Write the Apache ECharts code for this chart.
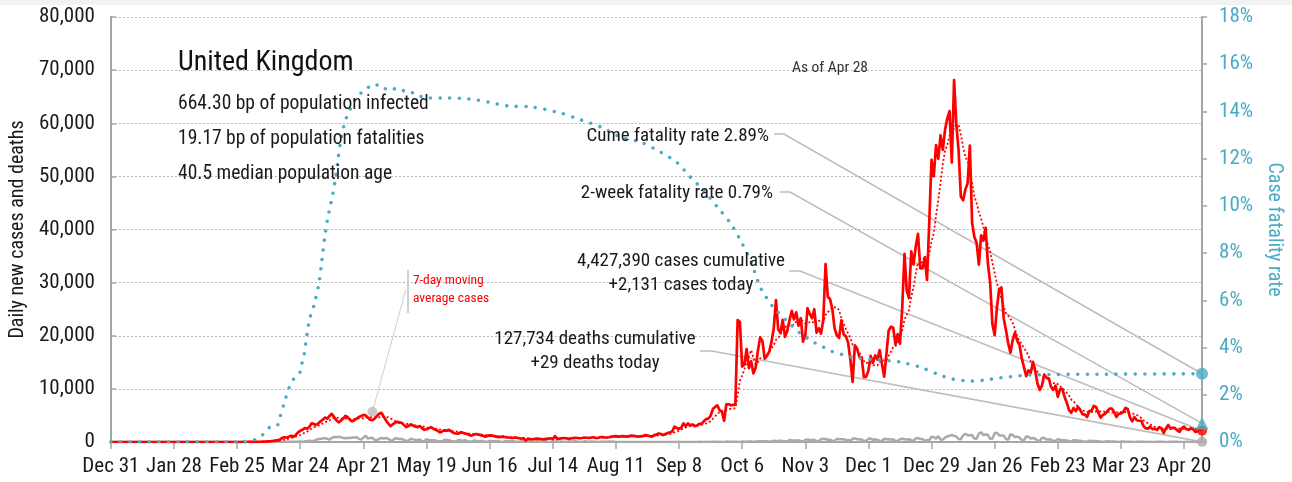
<!DOCTYPE html>
<html>
<head>
<meta charset="utf-8">
<script src="https://cdn.jsdelivr.net/npm/echarts@6/dist/echarts.min.js"></script>
<style>
  html, body { margin: 0; padding: 0; background: #ffffff; }
  #chart { width: 1292px; height: 482px; }
</style>
</head>
<body>
<div id="chart"></div>
<script>
// Day 0 of every series is Dec 31, 2019; one value per day up to Apr 28, 2021.
const startDateUTC = Date.UTC(2019, 11, 31);
const tickLabels = ['Dec 31', 'Jan 28', 'Feb 25', 'Mar 24', 'Apr 21', 'May 19', 'Jun 16', 'Jul 14', 'Aug 11',
  'Sep 8', 'Oct 6', 'Nov 3', 'Dec 1', 'Dec 29', 'Jan 26', 'Feb 23', 'Mar 23', 'Apr 20'];
const tickStepDays = 28;

// Daily new cases, one row per month
const dailyCases = [
  0,
  0,0,0,0,0,0,0,0,0,0, 0,0,0,0,0,0,0,0,0,0, 0,0,0,0,0,0,0,0,0,0, 2,
  0,0,0,0,0,1,0,0,0,4, 0,0,1,0,0,0,0,0,0,0, 0,0,0,4,0,2,2,5,3,
  12,10,20,30,40,50,60,80,100,130, 160,200,280,340,450,800,900,800,1000,1200, 1000,1300,1800,2100,2300,2600,2500,2800,3500,3400, 3200,
  3500,3900,4200,4600,4400,4900,5300,4700,4100,3700, 4000,4400,4900,4700,4200,3900,4100,4400,4700,4900, 5100,5000,4600,4200,4100,4400,4900,5300,5500,4800,
  4100,3500,3000,3300,3600,3800,3700,3600,3200, 2800,3000,3300,3100,2900,2800,3000,2600,2300,2400, 2600,2800,2500,2300,2100,1800,2000,2200,2100,2300,2000,1700,
  1600,1550,1800,1750,1600,1500,1300,1200,1400,1500, 1400,1300,1200,1000,1150,1250,1200,1100,1000,900, 950,1000,900,850,800,750,850,800,700,650,
  700,250,600,550,500,600,650, 600,550,500,600,650,700,550,1100,550,650,700, 750,700,600,650,750,800,750,700,750,850,800,750,850,
  900,750,750,900,950,850,850,900,1000,1050, 1100,1000,1050,1100,1050,1000,1100,1200,1150,1050, 1000,1050,1100,1300,1200,1100,1000,1300,1400,1600,1500,
  1300,1500,1700,1800,2000,2900,2600,2500,2700,3500, 3000,3500,3100,3300,3000,3100,3400,3400,3900,4300, 4400,4900,6200,6600,6900,6000,5700,4000,7100,7100,
  6900,7000,7000,22961,22600,14200,14600,17500,13900,15200, 12900,14000,17200,19700,19000,15700,16200,17000,18800,21300, 26700,21200,20500,23000,19800,20900,22900,24700,23100,24400, 21900,
  23300,18900,20000,25200,24100,23300,25000,20600,21400,20400, 23000,33500,27300,26900,25000,21400,20100,19600,22900,20300, 19900,18700,15500,11300,18200,17600,16000,15900,12200,12300,
  13400,16200,14900,16300,15500,17300,14700,12300,16600,21000, 21700,21500,18400,20300,18500,25200,35400,28500,27100,35900, 33400,36800,39200,32700,32700,34700,30500,41400,53100,50000, 55900,
  53300,57700,55000,58800,60900,62300,52600,68100,59900,54900, 46200,45500,47500,48700,55800,41300,38600,37500,33400,38900, 37900,40300,33600,30000,22200,20100,25300,28700,29100,23300, 21100,
  18600,16800,19200,20600,19100,18300,15800,14100,12400,13500, 13000,15100,13300,11000,9800,10600,12700,12100,12000,10400, 9800,10600,8500,9900,10000,8500,7400,6000,
  5500,6400,5800,6600,6000,5200,5200,4700,5800,5900, 6800,6600,5500,4600,5100,5300,5800,6300,6300,5600, 4700,5300,5400,5600,6400,6200,4700,3900,4700,4100, 4000,
  4000,3000,2600,2500,2900,2400,2500,2300,2800,2500, 1700,2600,3200,2500,2700,2600,2200,1900,2600,2900, 2400,2300,2600,2400,1900,2000,2500,2131
];

// Daily new deaths, one row per month
const dailyDeaths = [
  0,
  0,0,0,0,0,0,0,0,0,0, 0,0,0,0,0,0,0,0,0,0, 0,0,0,0,0,0,0,0,0,0, 0,
  0,0,0,0,0,0,0,0,0,0, 0,0,0,0,0,0,0,0,0,0, 0,0,0,0,0,0,0,0,0,
  0,0,0,0,1,1,0,1,3,0, 2,1,1,10,14,20,16,33,40,33, 56,48,54,87,41,115,181,260,209,180, 381,
  563,569,684,708,621,439,786,938,881,980, 917,737,717,778,761,861,847,888,596,449, 828,1172,639,768,813,413,360,586,765,674,
  739,621,315,288,693,649,539,627,346,268, 210,628,494,428,384,468,170,160,545,363, 338,351,282,118,121,134,412,377,324,215, 113,
  111,324,359,176,357,204,77,55,286,245, 151,202,181,36,38,233,135,122,173,128, 43,15,171,154,149,186,100,36,25,155,
  176,89,137,67,22,16,152,85,85,48, 148,21,11,138,85,66,40,114,28,11, 110,79,79,123,61,40,7,119,83,38, 119,
  65,74,0,0,89,54,49,97,55,74, 1,20,12,18,3,11,0,3,19,16, 6,12,2,0,16,6,11,1,2,3, 12,
  3,6,10,12,2,8,2,32,14,8, 6,9,9,21,20,11,27,9,18,20, 27,11,37,40,21,34,17,11,71,59,
  66,66,49,33,19,76,70,77,87,81, 65,50,143,137,138,136,150,67,80,241, 191,189,224,174,151,102,367,310,280,274, 326,
  162,136,397,492,378,355,413,156,194,532, 595,563,376,462,168,213,598,529,501,511, 341,398,206,608,696,498,521,479,215,205,
  603,648,414,504,397,231,189,616,533,516, 424,519,144,232,506,612,532,489,534,326, 215,691,744,570,575,210,316,357,981,964, 613,
  1115,445,454,830,1041,1162,1325,1162,1035,563, 529,1243,1564,1248,1280,1295,671,599,1610,1820, 1290,1401,1348,610,592,1631,1725,1239,1245,1200, 587,
  406,1449,1322,915,1014,828,373,333,1052,1001, 678,758,621,258,230,799,738,454,533,445, 215,178,548,442,323,345,290,144,
  104,343,315,242,236,158,82,65,231,190, 175,181,121,52,64,110,141,95,101,96, 33,17,112,98,63,70,58,19,23,56, 45,
  51,52,10,9,26,20,23,45,53,40, 7,13,22,30,34,27,32,10,4,23, 33,22,18,32,17,12,14,29
];

// Cumulative case fatality rate (%), [day, rate]
const caseFatalityRate = [
  [0, 0], [30, 0], [60, 0], [66, 0.2], [68.5, 0.42], [70.7, 0.64], [73.8, 0.7], [74.6, 0.93], [77.3, 1.78],
  [79.5, 2.41], [81.7, 2.75], [83.9, 2.96], [84.8, 3.35], [85.7, 3.68], [87, 4.57], [88.3, 5.25], [90.1, 5.8],
  [92.3, 6.73], [93.6, 7.7], [95, 8.77], [96.3, 9.53], [97.6, 10.12], [99.4, 11.0], [100.7, 11.94], [102, 12.79],
  [103.8, 13.55], [106, 14.06], [109.1, 14.6], [112.6, 14.9], [117, 15.16], [121, 14.95], [124, 15.03],
  [128, 14.85], [131, 14.9], [135.6, 14.7], [140.9, 14.57], [149.7, 14.57], [158.6, 14.53], [167.4, 14.4],
  [176.2, 14.23], [186.4, 14.19], [199.6, 13.93], [208.5, 13.64], [217.3, 13.34], [226.1, 12.92], [235, 12.7],
  [243.8, 12.28], [251.3, 11.82], [257, 11.22], [262.8, 10.67], [269, 9.95], [274.7, 9.28], [279.2, 8.55],
  [283.6, 7.71], [288, 6.56], [290.2, 6.2], [293.7, 5.72], [299.9, 5.12], [305.6, 4.62], [311.4, 4.24],
  [314.5, 4.1], [319.4, 3.85], [329, 3.6], [339.7, 3.48], [349.8, 3.39], [358.7, 3.18], [367.5, 2.84],
  [373.2, 2.67], [382.1, 2.58], [388.3, 2.63], [394, 2.71], [408.6, 2.84], [438.2, 2.87], [484, 2.89]
];

// Headline figures
const countryName = 'United Kingdom';
const infectedBp = 664.30;
const fatalitiesBp = 19.17;
const medianAge = 40.5;
const asOfLabel = 'As of Apr 28';
const cumeFatalityRate = 2.89;
const twoWeekFatalityRate = 0.79;
const cumulativeCases = 4427390;
const cumulativeDeaths = 127734;
const maCalloutPoint = [116, 5700];

const FONT = "'Liberation Sans Narrow', 'Roboto Condensed', 'DejaVu Sans Condensed', sans-serif";
const RED = '#ff0000';
const BLUE = '#4aabc5';
const GRAY = '#aaaaaa';
const INK = '#1a1a1a';
const TICK_FONT = 21;

const lastDay = dailyCases.length - 1;
const casesToday = dailyCases[lastDay];
const deathsToday = dailyDeaths[lastDay];
const fmt = v => v.toLocaleString('en-US');

// Trailing 7-day mean of daily cases
const movingAvg = dailyCases.map((v, i) => {
  const from = Math.max(0, i - 6);
  let s = 0;
  for (let k = from; k <= i; k++) s += dailyCases[k];
  return [i, s / (i - from + 1)];
});

const tickDays = tickLabels.map((_, i) => i * tickStepDays);

const chart = echarts.init(document.getElementById('chart'), null, { renderer: 'canvas' });

const option = {
  animation: false,
  backgroundColor: '#ffffff',
  textStyle: { fontFamily: FONT },
  grid: { left: 108, right: 87, top: 17, bottom: 40, containLabel: false },
  xAxis: {
    type: 'value', min: 0, max: lastDay, interval: tickStepDays,
    axisLine: { show: true, lineStyle: { color: '#a6a6a6', width: 2 } },
    axisTick: { show: true, length: 7, lineStyle: { color: '#a6a6a6', width: 1.5 }, customValues: tickDays },
    axisLabel: {
      color: INK, fontSize: TICK_FONT, fontFamily: FONT, margin: 14,
      customValues: tickDays,
      formatter: v => tickLabels[Math.round(v / tickStepDays)] || ''
    },
    splitLine: { show: false }
  },
  yAxis: [
    {
      type: 'value', min: 0, max: 80000, interval: 10000,
      name: 'Daily new cases and deaths', nameLocation: 'middle', nameGap: 68,
      nameTextStyle: { color: INK, fontSize: 20, fontFamily: FONT },
      axisLine: { show: true, lineStyle: { color: '#a6a6a6', width: 2 } },
      axisTick: { show: true, inside: true, length: 5, lineStyle: { color: '#a6a6a6', width: 1.5 } },
      axisLabel: { color: INK, fontSize: TICK_FONT, fontFamily: FONT, margin: 16, formatter: v => fmt(v) },
      splitLine: { show: true, lineStyle: { color: '#b4b4b4', width: 1, type: [2, 2] } }
    },
    {
      type: 'value', min: 0, max: 18, interval: 2, position: 'right',
      name: 'Case fatality rate', nameLocation: 'middle', nameGap: 50, nameRotate: -90,
      nameTextStyle: { color: BLUE, fontSize: 20, fontFamily: FONT },
      axisLine: { show: true, lineStyle: { color: '#a6a6a6', width: 2 } },
      axisTick: { show: true, length: 5, lineStyle: { color: '#a6a6a6', width: 1.5 } },
      axisLabel: { color: BLUE, fontSize: TICK_FONT, fontFamily: FONT, margin: 17, formatter: '{value}%' },
      splitLine: { show: false }
    }
  ],
  series: [
    {
      name: 'Daily deaths', type: 'line', yAxisIndex: 0, z: 3,
      data: dailyDeaths.map((v, i) => [i, v]), showSymbol: false,
      lineStyle: { color: GRAY, width: 2.5 }, itemStyle: { color: GRAY }
    },
    {
      name: '7-day moving average cases', type: 'line', yAxisIndex: 0, z: 4,
      data: movingAvg, showSymbol: false,
      lineStyle: { color: RED, width: 1.8, type: [2, 2.2] }, itemStyle: { color: RED }
    },
    {
      name: 'Daily cases', type: 'line', yAxisIndex: 0, z: 5,
      data: dailyCases.map((v, i) => [i, v]), showSymbol: false,
      lineStyle: { color: RED, width: 2.7, join: 'round' }, itemStyle: { color: RED }
    },
    {
      name: 'Case fatality rate', type: 'line', yAxisIndex: 1, z: 6,
      data: caseFatalityRate, showSymbol: false, smooth: 0.3,
      lineStyle: { color: BLUE, width: 3.6, type: [0, 9.6], cap: 'round' }, itemStyle: { color: BLUE }
    },
    {
      name: 'Moving average callout', type: 'scatter', yAxisIndex: 0, z: 7,
      data: [maCalloutPoint], symbol: 'circle', symbolSize: 10,
      itemStyle: { color: '#bdbdbd' }, silent: true
    },
    {
      name: 'Deaths today', type: 'scatter', yAxisIndex: 0, z: 8,
      data: [[lastDay, deathsToday]], symbol: 'circle', symbolSize: 10, itemStyle: { color: GRAY }
    },
    {
      name: 'Cases today', type: 'scatter', yAxisIndex: 0, z: 8,
      data: [[lastDay, casesToday]], symbol: 'circle', symbolSize: 10, itemStyle: { color: RED }
    },
    {
      name: '2-week fatality rate', type: 'scatter', yAxisIndex: 1, z: 9,
      data: [[lastDay, twoWeekFatalityRate]], symbol: 'triangle', symbolSize: 13, itemStyle: { color: BLUE }
    },
    {
      name: 'Cume fatality rate', type: 'scatter', yAxisIndex: 1, z: 9,
      data: [[lastDay, cumeFatalityRate]], symbol: 'circle', symbolSize: 12, itemStyle: { color: BLUE }
    }
  ]
};

chart.setOption(option);

// Annotation layer: headline text block, callout labels and their leader lines
function txt(x, y, text, size, color, align) {
  return {
    type: 'text', z: 20, silent: true,
    style: {
      x, y, text, fill: color, fontSize: size, fontFamily: FONT,
      align: align, textAlign: align, verticalAlign: 'middle', textVerticalAlign: 'middle'
    }
  };
}
function leader(points, color, width) {
  return {
    type: 'polyline', z: 1, silent: true,
    shape: { points },
    style: { stroke: color, lineWidth: width, fill: null }
  };
}

const px = (day, value, axis) => chart.convertToPixel({ xAxisIndex: 0, yAxisIndex: axis }, [day, value]);
const pCume = px(lastDay, cumeFatalityRate, 1);
const pTwoWeek = px(lastDay, twoWeekFatalityRate, 1);
const pCases = px(lastDay, casesToday, 0);
const pDeaths = px(lastDay, deathsToday, 0);
const pCallout = px(maCalloutPoint[0], maCalloutPoint[1], 0);

const LEADER = '#bdbdbd';

chart.setOption({
  graphic: [
    { type: 'rect', z: 0, silent: true, shape: { x: 0, y: 0, width: 1292, height: 5 }, style: { fill: '#f2f2f2' } },

    txt(178, 63, countryName, 28, '#111111', 'left'),
    txt(178, 104, infectedBp.toFixed(2) + ' bp of population infected', 19.5, INK, 'left'),
    txt(178, 139, fatalitiesBp.toFixed(2) + ' bp of population fatalities', 19.5, INK, 'left'),
    txt(178, 174, medianAge.toFixed(1) + ' median population age', 19.5, INK, 'left'),

    txt(792, 68, asOfLabel, 15.5, '#333333', 'left'),

    txt(769, 136, 'Cume fatality rate ' + cumeFatalityRate.toFixed(2) + '%', 19, INK, 'right'),
    txt(773, 193, '2-week fatality rate ' + twoWeekFatalityRate.toFixed(2) + '%', 19, INK, 'right'),
    txt(681, 261, fmt(cumulativeCases) + ' cases cumulative', 19, INK, 'center'),
    txt(681, 285, '+' + fmt(casesToday) + ' cases today', 19, INK, 'center'),
    txt(595, 339, fmt(cumulativeDeaths) + ' deaths cumulative', 19, INK, 'center'),
    txt(595, 363, '+' + fmt(deathsToday) + ' deaths today', 19, INK, 'center'),

    leader([[774, 134], [784, 134], pCume], LEADER, 1.6),
    leader([[780, 192], [790, 192], pTwoWeek], LEADER, 1.6),
    leader([[789, 271], [800, 271], pCases], LEADER, 1.6),
    leader([[700, 351], [712, 351], pDeaths], LEADER, 1.6),

    txt(413, 281, '7-day moving', 13.5, RED, 'left'),
    txt(413, 299, 'average cases', 13.5, RED, 'left'),
    leader([[408, 270], [408, 313]], '#d0d0d0', 2),
    leader([pCallout, [406, 289]], '#cfcfcf', 1)
  ]
});
</script>
</body>
</html>
